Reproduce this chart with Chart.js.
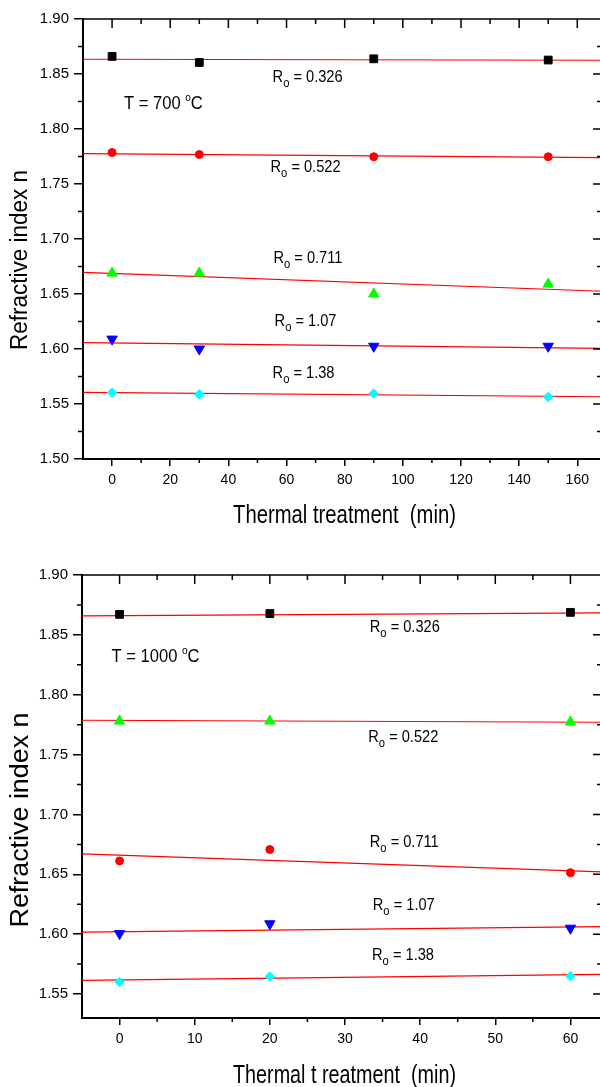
<!DOCTYPE html>
<html lang="en">
<head>
<meta charset="UTF-8">
<title>Refractive index vs thermal treatment</title>
<style>
  body { margin: 0; padding: 0; background: #fff; }
  .page { position: relative; width: 600px; height: 1087px; overflow: hidden; }
  .page canvas { position: absolute; left: 0; }
  #chart700 { top: 0; }
  #chart1000 { top: 540px; }
</style>
</head>
<body>
<div class="page">
  <!-- Chart.js keeps a few px on the right, so the canvases are a bit wider than the page -->
  <canvas id="chart700" width="609" height="540"></canvas>
  <canvas id="chart1000" width="609" height="547"></canvas>
</div>

<script src="https://cdn.jsdelivr.net/npm/chart.js"></script>
<script>
  const FONT = '"Liberation Sans", Arial, sans-serif';

  // ---- T = 700 C ----
  const times700 = [0, 30, 90, 150];
  const n700_R0326 = [1.866, 1.8605, 1.8638, 1.8627];
  const n700_R0522 = [1.7786, 1.7768, 1.7748, 1.7748];
  const n700_R0711 = [1.669, 1.669, 1.650, 1.659];
  const n700_R107 = [1.609, 1.600, 1.6025, 1.6025];
  const n700_R138 = [1.5603, 1.5588, 1.5595, 1.5564];

  // fitted lines, value at the left and right end of the x range
  const fitX700 = [-10, 168.5];
  const fit700_R0326 = [1.8634, 1.8625];
  const fit700_R0522 = [1.7776, 1.7740];
  const fit700_R0711 = [1.6697, 1.6525];
  const fit700_R107 = [1.6058, 1.6006];
  const fit700_R138 = [1.5606, 1.5566];

  const xTicks700 = [0, 20, 40, 60, 80, 100, 120, 140, 160];
  const xMinor700 = [10, 30, 50, 70, 90, 110, 130, 150];
  const yTicks700 = [1.50, 1.55, 1.60, 1.65, 1.70, 1.75, 1.80, 1.85, 1.90];
  const yMinor700 = [1.525, 1.575, 1.625, 1.675, 1.725, 1.775, 1.825, 1.875];

  // ---- T = 1000 C ----
  const times1000 = [0, 20, 60];
  const n1000_R0326 = [1.8671, 1.8678, 1.8688];
  const n1000_R0522 = [1.778, 1.778, 1.7772];
  const n1000_R0711 = [1.6612, 1.6707, 1.6514];
  const n1000_R107 = [1.6005, 1.6087, 1.6050];
  const n1000_R138 = [1.5600, 1.5646, 1.5650];

  const fitX1000 = [-5, 64.2];
  const fit1000_R0326 = [1.8658, 1.8683];
  const fit1000_R0522 = [1.7787, 1.7770];
  const fit1000_R0711 = [1.6670, 1.6520];
  const fit1000_R107 = [1.6018, 1.6063];
  const fit1000_R138 = [1.5614, 1.5664];

  const xTicks1000 = [0, 10, 20, 30, 40, 50, 60];
  const xMinor1000 = [5, 15, 25, 35, 45, 55];
  const yTicks1000 = [1.55, 1.60, 1.65, 1.70, 1.75, 1.80, 1.85, 1.90];
  const yMinor1000 = [1.575, 1.625, 1.675, 1.725, 1.775, 1.825, 1.875];

  const marker = {
    square:  { pointStyle: 'rect', radius: 5.5, rotation: 0 },
    circle:  { pointStyle: 'circle', radius: 4, rotation: 0 },
    up:      { pointStyle: 'triangle', radius: 6, rotation: 0 },
    down:    { pointStyle: 'triangle', radius: 6, rotation: 180 },
    diamond: { pointStyle: 'rectRot', radius: 4.8, rotation: 0 }
  };

  function rLabel(val) {
    return [{ t: 'R', size: 17 }, { t: 'o', size: 13, dy: 6 }, { t: ' = ' + val, size: 17 }];
  }
  function tLabel(temp) {
    return [{ t: 'T = ' + temp + ' ', size: 18 }, { t: 'o', size: 11, dy: -6 }, { t: 'C', size: 18 }];
  }

  function drawRich(ctx, parts, x, y, sx) {
    ctx.save();
    ctx.translate(x, y);
    ctx.scale(sx, 1);
    ctx.textAlign = 'left';
    ctx.textBaseline = 'middle';
    ctx.fillStyle = '#000';
    let cx = 0;
    parts.forEach(p => {
      ctx.font = p.size + 'px ' + FONT;
      ctx.fillText(p.t, cx, p.dy || 0);
      cx += ctx.measureText(p.t).width;
    });
    ctx.restore();
  }

  function drawTitle(ctx, t, rotate) {
    ctx.save();
    ctx.font = t.size + 'px ' + FONT;
    const sx = t.len / ctx.measureText(t.text).width;
    ctx.translate(t.x, t.y);
    if (rotate) ctx.rotate(-Math.PI / 2);
    ctx.scale(sx, 1);
    ctx.textAlign = 'center';
    ctx.textBaseline = 'middle';
    ctx.fillStyle = '#000';
    ctx.fillText(t.text, 0, 0);
    ctx.restore();
  }

  function decorations(o) {
    return {
      id: 'decorations',
      afterDraw(chart) {
        const ctx = chart.ctx, a = chart.chartArea;
        const xs = chart.scales.x, ys = chart.scales.y;
        ctx.save();
        ctx.strokeStyle = '#000';
        ctx.lineWidth = 1.5;
        ctx.beginPath();
        ctx.moveTo(a.left, a.top);
        ctx.lineTo(a.right, a.top);
        ctx.lineTo(a.right, a.bottom);
        o.xTicks.forEach(v => {
          const p = xs.getPixelForValue(v);
          ctx.moveTo(p, a.top); ctx.lineTo(p, a.top + 9);
        });
        o.xMinor.forEach(v => {
          const p = xs.getPixelForValue(v);
          ctx.moveTo(p, a.bottom); ctx.lineTo(p, a.bottom + 4);
          ctx.moveTo(p, a.top); ctx.lineTo(p, a.top + 5);
        });
        o.yTicks.forEach(v => {
          const p = ys.getPixelForValue(v);
          ctx.moveTo(a.right, p); ctx.lineTo(a.right - 9, p);
        });
        o.yMinor.forEach(v => {
          const p = ys.getPixelForValue(v);
          ctx.moveTo(a.left, p); ctx.lineTo(a.left - 5, p);
          ctx.moveTo(a.right, p); ctx.lineTo(a.right - 5, p);
        });
        ctx.stroke();
        ctx.restore();

        o.notes.forEach(n => {
          drawRich(ctx, n.parts, xs.getPixelForValue(n.x), ys.getPixelForValue(n.y), n.sx);
        });
        drawTitle(ctx, o.xTitle, false);
        drawTitle(ctx, o.yTitle, true);
      }
    };
  }

  function buildChart(id, o) {
    const datasets = [];
    o.series.forEach(s => {
      const m = marker[s.marker];
      datasets.push({
        data: o.times.map((t, i) => ({ x: t, y: s.values[i] })),
        showLine: false,
        pointStyle: m.pointStyle,
        pointRadius: m.radius,
        pointRotation: m.rotation,
        pointBackgroundColor: s.color,
        pointBorderColor: s.color,
        pointBorderWidth: 1,
        order: 0
      });
      datasets.push({
        data: o.fitX.map((t, i) => ({ x: t, y: s.fit[i] })),
        showLine: true,
        borderColor: '#ff0000',
        borderWidth: 1.2,
        pointRadius: 0,
        order: 1
      });
    });

    new Chart(document.getElementById(id), {
      type: 'scatter',
      data: { datasets: datasets },
      options: {
        responsive: false,
        animation: false,
        devicePixelRatio: 1,
        layout: { padding: { top: o.padTop, left: 0, right: 0, bottom: 0 } },
        plugins: { legend: { display: false }, tooltip: { enabled: false } },
        scales: {
          x: {
            type: 'linear',
            min: o.xMin,
            max: o.xMax,
            afterBuildTicks: s => { s.ticks = o.xTicks.map(v => ({ value: v })); },
            afterFit: s => { s.height = o.xHeight; },
            ticks: {
              autoSkip: false, maxRotation: 0, padding: 6, color: '#000',
              font: { family: FONT, size: 14 },
              callback: v => String(v)
            },
            grid: { display: true, drawOnChartArea: false, drawTicks: true, tickLength: 7, color: '#000', lineWidth: 1.5 },
            border: { display: true, color: '#000', width: 2 }
          },
          y: {
            type: 'linear',
            min: o.yMin,
            max: o.yMax,
            afterBuildTicks: s => { s.ticks = o.yTicks.map(v => ({ value: v })); },
            afterFit: s => { s.width = o.yWidth; },
            ticks: {
              autoSkip: false, padding: 5, color: '#000',
              font: { family: FONT, size: 15 },
              callback: v => v.toFixed(2)
            },
            grid: { display: true, drawOnChartArea: false, drawTicks: true, tickLength: 9, color: '#000', lineWidth: 1.5 },
            border: { display: true, color: '#000', width: 2 }
          }
        }
      },
      plugins: [decorations(o)]
    });
  }

  buildChart('chart700', {
    times: times700,
    fitX: fitX700,
    series: [
      { values: n700_R0326, fit: fit700_R0326, color: '#000000', marker: 'square' },
      { values: n700_R0522, fit: fit700_R0522, color: '#ff0000', marker: 'circle' },
      { values: n700_R0711, fit: fit700_R0711, color: '#00ff00', marker: 'up' },
      { values: n700_R107, fit: fit700_R107, color: '#0000ff', marker: 'down' },
      { values: n700_R138, fit: fit700_R138, color: '#00ffff', marker: 'diamond' }
    ],
    xMin: -10, xMax: 168.5, yMin: 1.50, yMax: 1.90,
    xTicks: xTicks700, xMinor: xMinor700, yTicks: yTicks700, yMinor: yMinor700,
    padTop: 19, yWidth: 83, xHeight: 81,
    notes: [
      { x: 4.1, y: 1.8227, parts: tLabel('700'), sx: 0.92 },
      { x: 55.2, y: 1.8473, parts: rLabel('0.326'), sx: 0.86 },
      { x: 54.5, y: 1.7650, parts: rLabel('0.522'), sx: 0.86 },
      { x: 55.5, y: 1.6827, parts: rLabel('0.711'), sx: 0.86 },
      { x: 55.9, y: 1.6255, parts: rLabel('1.07'), sx: 0.86 },
      { x: 55.2, y: 1.5782, parts: rLabel('1.38'), sx: 0.86 }
    ],
    xTitle: { text: 'Thermal treatment  (min)', x: 344.5, y: 516.5, size: 25, len: 223 },
    yTitle: { text: 'Refractive index n', x: 21, y: 260, size: 23, len: 180 }
  });

  buildChart('chart1000', {
    times: times1000,
    fitX: fitX1000,
    series: [
      { values: n1000_R0326, fit: fit1000_R0326, color: '#000000', marker: 'square' },
      { values: n1000_R0522, fit: fit1000_R0522, color: '#00ff00', marker: 'up' },
      { values: n1000_R0711, fit: fit1000_R0711, color: '#ff0000', marker: 'circle' },
      { values: n1000_R107, fit: fit1000_R107, color: '#0000ff', marker: 'down' },
      { values: n1000_R138, fit: fit1000_R138, color: '#00ffff', marker: 'diamond' }
    ],
    xMin: -5, xMax: 64.2, yMin: 1.53, yMax: 1.90,
    xTicks: xTicks1000, xMinor: xMinor1000, yTicks: yTicks1000, yMinor: yMinor1000,
    padTop: 35, yWidth: 82, xHeight: 69,
    notes: [
      { x: -1.07, y: 1.8315, parts: tLabel('1000'), sx: 0.92 },
      { x: 33.3, y: 1.8566, parts: rLabel('0.326'), sx: 0.86 },
      { x: 33.1, y: 1.7647, parts: rLabel('0.522'), sx: 0.86 },
      { x: 33.3, y: 1.6769, parts: rLabel('0.711'), sx: 0.86 },
      { x: 33.7, y: 1.6243, parts: rLabel('1.07'), sx: 0.86 },
      { x: 33.6, y: 1.5825, parts: rLabel('1.38'), sx: 0.86 }
    ],
    xTitle: { text: 'Thermal t reatment  (min)', x: 344.5, y: 536, size: 25, len: 223 },
    yTitle: { text: 'Refractive index n', x: 21, y: 280, size: 25, len: 215 }
  });
</script>
</body>
</html>
